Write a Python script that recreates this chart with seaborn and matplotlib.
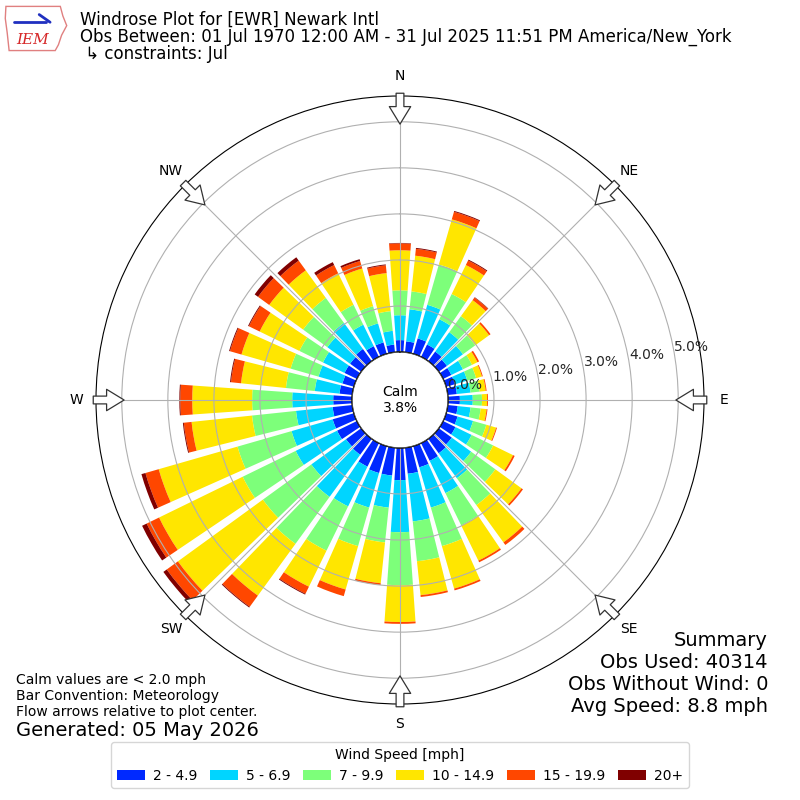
import numpy as np
import pandas as pd
import matplotlib
matplotlib.use("Agg")
import matplotlib.pyplot as plt
import seaborn as sns
from matplotlib.patches import Patch, Circle, Polygon

# directions (deg, meteorological) and speed bins
directions = np.arange(0, 360, 10)
speed_bins = ["2 - 4.9", "5 - 6.9", "7 - 9.9", "10 - 14.9", "15 - 19.9", "20+"]

# frequency [%] per direction for each speed bin
pct_2_5 = [0.26, 0.24, 0.35, 0.30, 0.26, 0.22, 0.20, 0.20, 0.20, 0.26, 0.22, 0.26,
           0.30, 0.35, 0.39, 0.43, 0.48, 0.57, 0.70, 0.61, 0.61, 0.57, 0.43, 0.41,
           0.48, 0.48, 0.43, 0.41, 0.28, 0.26, 0.30, 0.30, 0.33, 0.26, 0.26, 0.17]
pct_5_7 = [0.54, 0.70, 0.76, 0.61, 0.52, 0.43, 0.28, 0.28, 0.30, 0.28, 0.28, 0.35,
           0.39, 0.52, 0.67, 0.78, 0.91, 1.04, 1.13, 0.70, 0.78, 0.96, 1.13, 0.93,
           1.00, 0.93, 0.80, 0.89, 0.54, 0.54, 0.52, 0.61, 0.70, 0.52, 0.43, 0.30]
pct_7_10 = [0.54, 0.39, 0.91, 0.61, 0.43, 0.33, 0.22, 0.20, 0.20, 0.20, 0.22, 0.30,
            0.52, 0.65, 0.72, 0.78, 0.87, 0.87, 1.15, 0.76, 0.87, 1.07, 1.26, 1.30,
            1.28, 1.22, 0.96, 0.87, 0.63, 0.63, 0.57, 0.65, 0.67, 0.48, 0.39, 0.43]
pct_10_15 = [0.87, 0.78, 1.02, 0.70, 0.43, 0.37, 0.13, 0.13, 0.13, 0.11, 0.13, 0.22,
             0.48, 0.70, 1.00, 0.85, 0.96, 0.74, 0.80, 0.89, 0.98, 0.87, 1.39, 2.28,
             2.02, 1.78, 1.32, 1.30, 0.98, 1.11, 0.96, 0.91, 0.74, 0.76, 0.85, 0.83]
pct_15_20 = [0.15, 0.15, 0.17, 0.11, 0.07, 0.04, 0.04, 0.02, 0.02, 0.02, 0.02, 0.02,
             0.04, 0.04, 0.07, 0.04, 0.04, 0.04, 0.04, 0.04, 0.15, 0.17, 0.30, 0.30,
             0.30, 0.30, 0.17, 0.26, 0.22, 0.26, 0.26, 0.30, 0.26, 0.20, 0.17, 0.17]
pct_20 = [0.01, 0.02, 0.02, 0.02, 0.01, 0.00, 0.00, 0.00, 0.00, 0.00, 0.00, 0.00,
          0.00, 0.00, 0.00, 0.00, 0.00, 0.00, 0.00, 0.00, 0.00, 0.02, 0.02, 0.09,
          0.11, 0.09, 0.02, 0.02, 0.02, 0.02, 0.02, 0.09, 0.09, 0.07, 0.04, 0.02]

rings = [0, 1, 2, 3, 4, 5]
compass = ["N", "NE", "E", "SE", "S", "SW", "W", "NW"]
calm_pct = 3.8

df = pd.DataFrame({"dir": directions, speed_bins[0]: pct_2_5, speed_bins[1]: pct_5_7,
                   speed_bins[2]: pct_7_10, speed_bins[3]: pct_10_15,
                   speed_bins[4]: pct_15_20, speed_bins[5]: pct_20})

sns.set_style("white")
plt.rcParams["font.family"] = ["DejaVu Sans"]
plt.rcParams["text.color"] = "black"

colors = plt.get_cmap("jet")(np.arange(1, 7) / 6.0)

R_ORIGIN = -1.04
R_MAX = 5.56

fig = plt.figure(figsize=(8, 8), dpi=100)
ax = fig.add_axes([0.12, 0.12, 0.76, 0.76], projection="polar")
ax.set_theta_zero_location("N")
ax.set_theta_direction(-1)

theta = np.deg2rad(df["dir"].values)
width = np.deg2rad(8)
bottom = np.zeros(len(df))
for name, col in zip(speed_bins, colors):
    vals = df[name].values
    ax.bar(theta, vals, width=width, bottom=bottom, color=col, linewidth=0, zorder=1)
    bottom = bottom + vals

ax.set_rorigin(R_ORIGIN)
ax.set_ylim(0, R_MAX)
ax.set_yticks(rings)
ax.set_yticklabels([f"{r:.1f}%" for r in rings], fontsize=10)
ax.set_rlabel_position(80.5)
ax.set_xticks(np.deg2rad(np.arange(0, 360, 45)))
ax.set_xticklabels([])
ax.set_axisbelow(False)
ax.grid(True, color="#b0b0b0", linewidth=0.8)
for sp in ax.spines.values():
    sp.set_color("black")
    sp.set_linewidth(0.8)

# calm in the middle
ax.add_patch(Circle((0.5, 0.5), 48 / 608, transform=ax.transAxes, fc="white",
                    ec="black", lw=1.0, zorder=4))
ax.text(0.5, 0.5, f"Calm\n{calm_pct:.1f}%", transform=ax.transAxes,
        ha="center", va="center", fontsize=10, zorder=5)

# compass labels and flow arrows
for i, lab in enumerate(compass):
    t = np.deg2rad(i * 45)
    ax.text(t, 5.99, lab, ha="center", va="center", fontsize=10, clip_on=False)
    ax.annotate("", xy=(t, 4.95), xytext=(t, 5.62), xycoords="data", textcoords="data",
                annotation_clip=False,
                arrowprops=dict(arrowstyle="simple,head_length=0.9,head_width=1.1,tail_width=0.4",
                                fc="white", ec="#333333", lw=0.9, shrinkA=0, shrinkB=0,
                                mutation_scale=14),
                zorder=6)

# header
fig.text(0.1, 0.975, "Windrose Plot for [EWR] Newark Intl", fontsize=12, va="center")
fig.text(0.1, 0.954, "Obs Between: 01 Jul 1970 12:00 AM - 31 Jul 2025 11:51 PM America/New_York",
         fontsize=12, va="center")
fig.text(0.1, 0.932, " \u21b3 constraints: Jul", fontsize=12, va="center")

# rough IEM logo
lax = fig.add_axes([0.005, 0.935, 0.08, 0.06])
lax.set_xlim(0, 1)
lax.set_ylim(0, 1)
lax.axis("off")
iowa = [(0.03, 0.95), (0.88, 0.95), (0.92, 0.75), (0.98, 0.55), (0.90, 0.35),
        (0.85, 0.15), (0.80, 0.03), (0.08, 0.03), (0.05, 0.40), (0.02, 0.70)]
lax.add_patch(Polygon(iowa, closed=True, fc="white", ec="#e08080", lw=1.0))
lax.plot([0.15, 0.65], [0.62, 0.62], color="#2030c0", lw=2)
lax.plot([0.55, 0.72], [0.78, 0.62], color="#2030c0", lw=2)
lax.text(0.45, 0.25, "IEM", fontsize=11, color="#d62728", style="italic",
         family="DejaVu Serif", ha="center", va="center")

# footer notes
fig.text(0.02, 0.150, "Calm values are < 2.0 mph", fontsize=10, va="center")
fig.text(0.02, 0.130, "Bar Convention: Meteorology", fontsize=10, va="center")
fig.text(0.02, 0.110, "Flow arrows relative to plot center.", fontsize=10, va="center")
fig.text(0.02, 0.0875, "Generated: 05 May 2026", fontsize=14, va="center")

summary = ["Summary", "Obs Used: 40314", "Obs Without Wind: 0", "Avg Speed: 8.8 mph"]
for k, line in enumerate(summary):
    fig.text(0.96, 0.2 - k * 0.0275, line, fontsize=14, ha="right", va="center")

handles = [Patch(facecolor=c, edgecolor="none") for c in colors]
fig.legend(handles, speed_bins, loc="upper center", bbox_to_anchor=(0.5, 0.0725),
           ncol=6, title="Wind Speed [mph]", fontsize=10, title_fontsize=10,
           frameon=True, borderaxespad=0, columnspacing=0.9, handletextpad=0.6,
           handlelength=2.0)

fig.savefig("out.png", dpi=100)
